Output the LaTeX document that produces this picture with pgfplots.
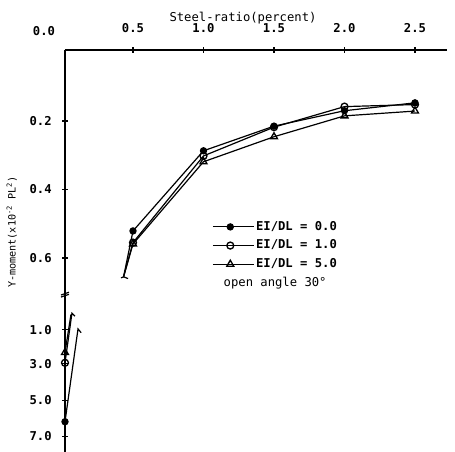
\documentclass[border=0pt]{standalone}
\usepackage{pgfplots}
\pgfplotsset{compat=1.18}
\usepackage{fontspec}
\setmainfont{DejaVu Sans Mono}
\newcommand{\tickfont}{\fontsize{9.15}{10}\selectfont\bfseries}
\newcommand{\labfont}{\fontsize{9.15}{10}\selectfont}
\begin{document}
\begin{tikzpicture}
\begin{axis}[
  name=ax, at={(0,0)}, anchor=south west,
  scale only axis, width=286.5pt, height=301.5pt,
  xmin=0.0177, xmax=2.727, ymin=-0.0073, ymax=1.1664,
  y dir=reverse,
  axis x line=top, axis y line=left,
  axis line style={line width=1.2pt, -},
  xtick={0.5,1,1.5,2,2.5}, xticklabels={0.5,1.0,1.5,2.0,2.5},
  ytick={0.2,0.4,0.6,0.810,0.909,1.015,1.120},
  yticklabels={0.2,0.4,0.6,1.0,3.0,5.0,7.0},
  tick style={black, line width=0.8pt}, major tick length=4pt,
  tick label style={font=\tickfont},
  xticklabel style={anchor=base, yshift=11pt},
  yticklabel style={anchor=east, xshift=-4.5pt},
  xlabel={Steel-ratio(percent)},
  xlabel style={at={(axis description cs:0.466,1)}, anchor=base, yshift=21pt, font=\labfont},
  ylabel={Y-moment(x10\textsuperscript{-2} PL\textsuperscript{2})},
  ylabel style={at={(axis description cs:-0.139,0.547)}, anchor=center, rotate=0, font=\fontsize{7.6}{9}\selectfont},
  legend style={at={(axis cs:1.06,0.487)}, anchor=north west, draw=none, fill=none,
    font=\tickfont, row sep=3pt, inner sep=0pt,
    nodes={inner sep=1pt, text height=7pt, text depth=2pt}},
  legend cell align=left,
  legend image code/.code={\draw[mark repeat=2,mark phase=2] plot coordinates {(0pt,0pt) (13.1pt,0pt) (26.25pt,0pt)}; \path (26.25pt,0pt) -- (31pt,0pt);},
  clip=false,
]
% broken connecting segments (upper part)
\addplot[black, line width=0.9pt, forget plot] coordinates {(0.5,0.521) (0.433,0.655) (0.415,0.658)};
\addplot[black, line width=0.9pt, forget plot] coordinates {(0.5,0.555) (0.433,0.655) (0.465,0.660)};
\addplot[black, line width=0.9pt, forget plot] coordinates {(0.5,0.559) (0.433,0.655)};
% lower part segments with left points
\addplot[black, line width=0.9pt, mark=*, mark size=2.3pt, mark indices={1}, forget plot]
  coordinates {(0.0177,1.078) (0.110,0.807) (0.132,0.818)};
\addplot[black, line width=0.9pt, mark=o, mark size=2.6pt, mark options={fill=white, line width=1pt}, mark indices={1}, forget plot]
  coordinates {(0.0177,0.906) (0.067,0.761) (0.088,0.770)};
\addplot[black, line width=0.9pt, mark=triangle, mark size=3pt, mark options={fill=white, line width=1pt}, mark indices={1}, forget plot]
  coordinates {(0.0177,0.876) (0.060,0.765)};
% main series
\addplot[black, line width=0.9pt, mark=*, mark size=2.3pt]
  coordinates {(0.5,0.521) (1.0,0.287) (1.5,0.215) (2.0,0.170) (2.5,0.147)};
\addlegendentry{EI/DL = 0.0}
\addplot[black, line width=0.9pt, mark=o, mark size=2.6pt, mark options={fill=white, line width=1pt}]
  coordinates {(0.5,0.555) (1.0,0.302) (1.5,0.218) (2.0,0.158) (2.5,0.152)};
\addlegendentry{EI/DL = 1.0}
\addplot[black, line width=0.9pt, mark=triangle, mark size=3pt, mark options={fill=white, line width=1pt}]
  coordinates {(0.5,0.559) (1.0,0.319) (1.5,0.246) (2.0,0.185) (2.5,0.171)};
\addlegendentry{EI/DL = 5.0}
% y-axis break mark
\draw[line width=0.9pt] ([xshift=-3pt]axis cs:0.0177,0.708) -- ([xshift=3pt]axis cs:0.0177,0.700);
\draw[line width=0.9pt] ([xshift=-3pt]axis cs:0.0177,0.714) -- ([xshift=3pt]axis cs:0.0177,0.706);
% extra texts
\node[anchor=base, font=\tickfont, xshift=-15.75pt, yshift=11pt] at (axis description cs:0,1) {0.0};
\node[anchor=west, font=\labfont] at (axis cs:1.11,0.672) {open angle 30°};
\end{axis}
\pgfresetboundingbox
\path[use as bounding box] (-48.75pt,0pt) rectangle (292.5pt,339pt);
\end{tikzpicture}
\end{document}
